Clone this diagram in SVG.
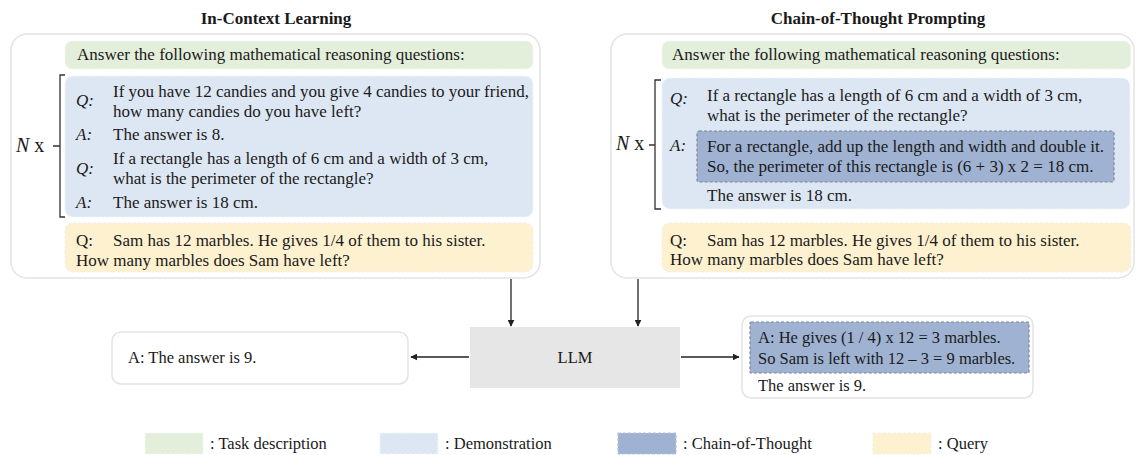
<svg xmlns="http://www.w3.org/2000/svg" width="1136" height="455" viewBox="0 0 1136 455">
  <defs>
    <marker id="arrow" viewBox="0 0 10 10" refX="9" refY="5" markerWidth="7" markerHeight="7" markerUnits="userSpaceOnUse" orient="auto">
      <path d="M0,0 L10,5 L0,10 z" fill="#222"/>
    </marker>
  </defs>
  <style>
    text { font-family: "Liberation Serif", "Times New Roman", serif; font-size: 17px; fill: #1a1a1a; }
    .title { font-weight: bold; font-size: 17px; text-anchor: middle; }
    .lbl { font-style: italic; }
    .nx { font-size: 20px; }
    .panel { fill: #ffffff; stroke: #e3e3e3; stroke-width: 1.5; }
    .task { fill: #e3eedb; stroke: #f4f8f1; stroke-width: 1.2; stroke-dasharray: 3 2; }
    .demo { fill: #dde7f3; stroke: #f1f5fa; stroke-width: 1.2; stroke-dasharray: 3 2; }
    .query { fill: #fdf1d0; stroke: #f0f0ee; stroke-width: 1.2; stroke-dasharray: 3 2; }
    .cot { fill: #9fb2d2; stroke: #7f8794; stroke-width: 1.2; stroke-dasharray: 3 2; }
    .bracket { fill: none; stroke: #333; stroke-width: 1.3; }
    .edge { fill: none; stroke: #222; stroke-width: 1.3; marker-end: url(#arrow); }
    .llm { fill: #e6e6e6; }
    .small { font-size: 16.5px; }
  </style>

  <!-- titles -->
  <text class="title" x="276" y="24">In-Context Learning</text>
  <text class="title" x="878" y="24">Chain-of-Thought Prompting</text>

  <!-- in-context learning prompt -->
  <g id="icl-prompt">
    <rect class="panel" x="11" y="34" width="529" height="244" rx="16"/>
    <rect class="task" x="65" y="41" width="468" height="28" rx="7"/>
    <text x="77" y="60">Answer the following mathematical reasoning questions:</text>
    <rect class="demo" x="65" y="76" width="468" height="141" rx="8"/>
    <text class="lbl" x="76" y="106">Q:</text>
    <text x="113" y="97">If you have 12 candies and you give 4 candies to your friend,</text>
    <text x="113" y="117">how many candies do you have left?</text>
    <text class="lbl" x="76" y="140">A:</text>
    <text x="113" y="140">The answer is 8.</text>
    <text class="lbl" x="76" y="174">Q:</text>
    <text x="113" y="164">If a rectangle has a length of 6 cm and a width of 3 cm,</text>
    <text x="113" y="184">what is the perimeter of the rectangle?</text>
    <text class="lbl" x="76" y="208">A:</text>
    <text x="113" y="208">The answer is 18 cm.</text>
    <rect class="query" x="65" y="223" width="468" height="49" rx="8"/>
    <text x="76" y="246">Q:</text>
    <text x="113" y="246">Sam has 12 marbles. He gives 1/4 of them to his sister.</text>
    <text x="76" y="266">How many marbles does Sam have left?</text>
    <path class="bracket" d="M65,75 H60 V217 H65 M60,146 H53"/>
    <text class="nx" x="16" y="152"><tspan font-style="italic">N</tspan> x</text>
  </g>

  <!-- chain-of-thought prompt -->
  <g id="cot-prompt">
    <rect class="panel" x="611" y="34" width="523" height="244" rx="16"/>
    <rect class="task" x="662" y="41" width="469" height="28" rx="7"/>
    <text x="672" y="60">Answer the following mathematical reasoning questions:</text>
    <rect class="demo" x="662" y="78" width="468" height="131" rx="8"/>
    <text class="lbl" x="670" y="104">Q:</text>
    <text x="707" y="101">If a rectangle has a length of 6 cm and a width of 3 cm,</text>
    <text x="707" y="121">what is the perimeter of the rectangle?</text>
    <text class="lbl" x="670" y="151">A:</text>
    <rect class="cot" x="697" y="131" width="417" height="51" rx="2"/>
    <text x="707" y="152">For a rectangle, add up the length and width and double it.</text>
    <text x="707" y="172">So, the perimeter of this rectangle is (6 + 3) x 2 = 18 cm.</text>
    <text x="707" y="201">The answer is 18 cm.</text>
    <rect class="query" x="662" y="223" width="469" height="49" rx="8"/>
    <text x="670" y="246">Q:</text>
    <text x="707" y="246">Sam has 12 marbles. He gives 1/4 of them to his sister.</text>
    <text x="670" y="265">How many marbles does Sam have left?</text>
    <path class="bracket" d="M661,80 H655 V209 H661 M655,145 H649"/>
    <text class="nx" x="616" y="150"><tspan font-style="italic">N</tspan> x</text>
  </g>

  <!-- language model -->
  <g id="llm">
    <rect class="llm" x="470" y="327" width="210" height="61"/>
    <text class="small" x="575" y="363" text-anchor="middle">LLM</text>
  </g>

  <!-- plain answer -->
  <g id="icl-answer">
    <rect class="panel" x="112" y="332" width="296" height="52" rx="9"/>
    <text class="small" x="128" y="363">A: The answer is 9.</text>
  </g>

  <!-- reasoned answer -->
  <g id="cot-answer">
    <rect class="panel" x="742" y="316" width="291" height="82" rx="9"/>
    <rect class="cot" x="750" y="322" width="279" height="51" rx="1"/>
    <text class="small" x="758" y="343">A: He gives (1 / 4) x 12 = 3 marbles.</text>
    <text class="small" x="758" y="364">So Sam is left with 12 – 3 = 9 marbles.</text>
    <text class="small" x="758" y="391">The answer is 9.</text>
  </g>

  <!-- connectors -->
  <g id="connectors">
    <path class="edge" d="M511,279 V326"/>
    <path class="edge" d="M638,279 V326"/>
    <path class="edge" d="M469,357 H411"/>
    <path class="edge" d="M681,357 H739"/>
  </g>

  <!-- legend -->
  <g id="legend">
    <rect class="task" x="145" y="433" width="58" height="21"/>
    <text class="small" x="210" y="449">: Task description</text>
    <rect class="demo" x="380" y="433" width="58" height="21"/>
    <text class="small" x="445" y="449">: Demonstration</text>
    <rect class="cot" x="618" y="433" width="58" height="21" style="stroke:#b8c4d8"/>
    <text class="small" x="683" y="449">: Chain-of-Thought</text>
    <rect class="query" x="873" y="433" width="58" height="21"/>
    <text class="small" x="938" y="449">: Query</text>
  </g>
</svg>
